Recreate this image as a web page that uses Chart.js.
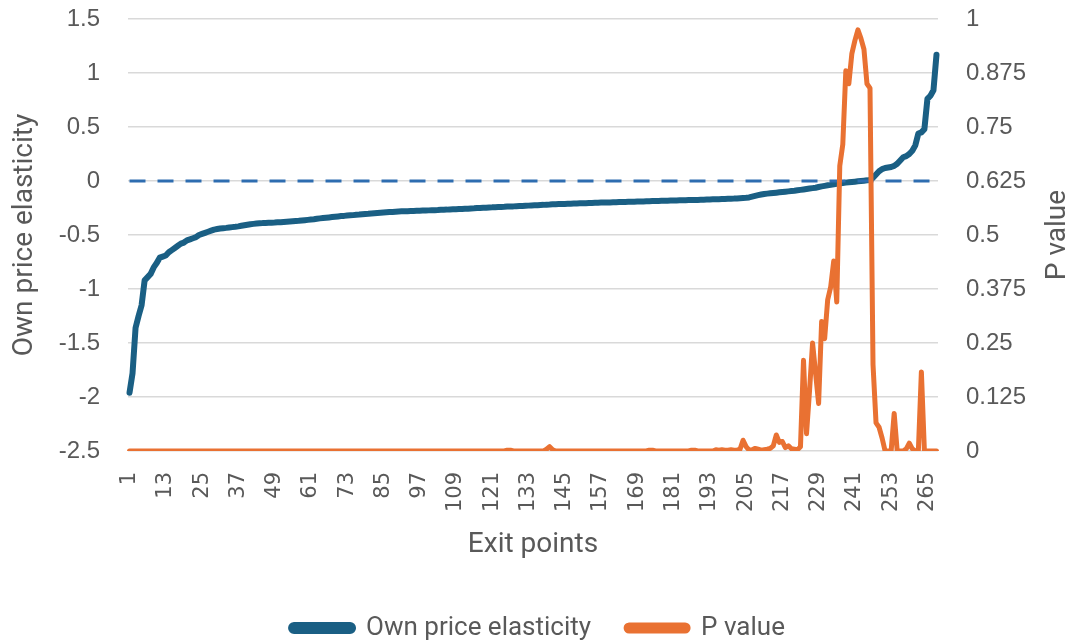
<!DOCTYPE html>
<html>
<head>
<meta charset="utf-8">
<script src="https://cdn.jsdelivr.net/npm/chart.js@4.4.1/dist/chart.umd.min.js"></script>
<style>
  html, body { margin: 0; padding: 0; background: #ffffff; }
  #wrap { width: 1076px; height: 644px; position: relative; }
</style>
</head>
<body>
<div id="wrap"><canvas id="c" width="1076" height="644"></canvas></div>
<script>
// ---- Data ----
const categoryCount = 268;
const categories = [];
for (let i = 1; i <= categoryCount; i++) categories.push(String(i));

const tickEvery = 12; // labels shown: 1, 13, 25, ... 265

const ownPriceElasticity = [
  -1.96, -1.78, -1.36, -1.25, -1.15, -0.92, -0.89, -0.86, -0.80, -0.76,
  -0.71, -0.70, -0.69, -0.66, -0.64, -0.62, -0.60, -0.58, -0.57, -0.55,
  -0.54, -0.53, -0.52, -0.50, -0.49, -0.48, -0.47, -0.46, -0.45, -0.445,
  -0.44, -0.437, -0.434, -0.43, -0.427, -0.424, -0.42, -0.415, -0.41, -0.405,
  -0.40, -0.397, -0.394, -0.392, -0.390, -0.389, -0.387, -0.386, -0.385, -0.383,
  -0.381, -0.379, -0.377, -0.375, -0.373, -0.371, -0.369, -0.366, -0.363, -0.36,
  -0.357, -0.354, -0.35, -0.346, -0.343, -0.34, -0.337, -0.334, -0.331, -0.328,
  -0.325, -0.323, -0.320, -0.318, -0.316, -0.313, -0.311, -0.308, -0.305, -0.303,
  -0.300, -0.298, -0.296, -0.294, -0.292, -0.290, -0.288, -0.286, -0.284, -0.282,
  -0.281, -0.280, -0.279, -0.278, -0.277, -0.276, -0.275, -0.274, -0.273, -0.272,
  -0.271, -0.270, -0.269, -0.267, -0.266, -0.265, -0.263, -0.262, -0.261, -0.260,
  -0.259, -0.257, -0.256, -0.254, -0.253, -0.251, -0.250, -0.248, -0.247, -0.245,
  -0.244, -0.242, -0.241, -0.240, -0.239, -0.237, -0.236, -0.235, -0.233, -0.232,
  -0.231, -0.229, -0.228, -0.226, -0.225, -0.224, -0.222, -0.221, -0.219, -0.218,
  -0.216, -0.215, -0.214, -0.213, -0.212, -0.211, -0.210, -0.209, -0.208, -0.207,
  -0.206, -0.205, -0.204, -0.203, -0.202, -0.201, -0.200, -0.199, -0.198, -0.198,
  -0.197, -0.196, -0.195, -0.195, -0.194, -0.193, -0.192, -0.191, -0.190, -0.190,
  -0.189, -0.188, -0.187, -0.186, -0.185, -0.185, -0.184, -0.183, -0.182, -0.181,
  -0.180, -0.180, -0.179, -0.178, -0.178, -0.177, -0.176, -0.176, -0.175, -0.174,
  -0.173, -0.172, -0.171, -0.170, -0.169, -0.168, -0.167, -0.166, -0.165, -0.164,
  -0.163, -0.161, -0.159, -0.157, -0.155, -0.152, -0.145, -0.138, -0.131, -0.125,
  -0.120, -0.117, -0.114, -0.111, -0.108, -0.105, -0.102, -0.099, -0.096, -0.093,
  -0.090, -0.086, -0.082, -0.078, -0.074, -0.070, -0.066, -0.062, -0.056, -0.050,
  -0.045, -0.040, -0.036, -0.031, -0.026, -0.021, -0.018, -0.015, -0.012, -0.009,
  -0.006, -0.003, 0.000, 0.003, 0.006, 0.010, 0.03, 0.06, 0.09, 0.11,
  0.12, 0.125, 0.13, 0.14, 0.16, 0.19, 0.22, 0.23, 0.25, 0.28,
  0.33, 0.44, 0.45, 0.48, 0.76, 0.79, 0.84, 1.17
];

const pValue = [
  0,0,0,0,0,0,0,0,0,0,
  0,0,0,0,0,0,0,0,0,0,
  0,0,0,0,0,0,0,0,0,0,
  0,0,0,0,0,0,0,0,0,0,
  0,0,0,0,0,0,0,0,0,0,
  0,0,0,0,0,0,0,0,0,0,
  0,0,0,0,0,0,0,0,0,0,
  0,0,0,0,0,0,0,0,0,0,
  0,0,0,0,0,0,0,0,0,0,
  0,0,0,0,0,0,0,0,0,0,
  0,0,0,0,0,0,0,0,0,0,
  0,0,0,0,0,0,0,0,0,0,
  0,0,0,0,0,0.002,0.002,0,0,0,
  0,0,0,0,0,0,0,0,0.004,0.01,
  0.003,0,0,0,0,0,0,0,0,0,
  0,0,0,0,0,0,0,0,0,0,
  0,0,0,0,0,0,0,0,0,0,
  0,0,0.002,0.002,0,0,0,0,0,0,
  0,0,0,0,0,0,0.002,0.002,0,0,
  0,0,0,0,0.003,0.002,0.003,0.002,0.002,0.003,
  0.002,0.002,0.004,0.025,0.01,0.002,0.003,0.006,0.004,0.002,
  0.003,0.004,0.006,0.012,0.037,0.02,0.022,0.008,0.012,0.005,
  0.004,0.003,0.01,0.21,0.04,0.14,0.25,0.18,0.11,0.30,
  0.26,0.35,0.38,0.44,0.345,0.66,0.71,0.88,0.85,0.92,
  0.95,0.975,0.955,0.93,0.85,0.84,0.20,0.065,0.055,0.03,
  0,0,0,0.087,0,0,0,0.005,0.018,0.005,
  0,0,0.183,0,0,0,0,0
];

const zeroLine = categories.map(() => 0);

const leftTicks = { min: -2.5, max: 1.5, step: 0.5 };
const rightTicks = { min: 0, max: 1, step: 0.125 };

// ---- Styling ----
const BLUE = '#1a5f84';
const ORANGE = '#e97132';
const DASH = '#2e6db0';
const GRID = '#d9d9d9';
const TEXT = '#595959';

const rightTitlePlugin = {
  id: 'rightTitle',
  afterDraw(chart) {
    const ctx = chart.ctx;
    const area = chart.chartArea;
    ctx.save();
    ctx.fillStyle = TEXT;
    ctx.font = '28px Roboto';
    ctx.textAlign = 'center';
    ctx.textBaseline = 'middle';
    ctx.translate(1058, (area.top + area.bottom) / 2);
    ctx.rotate(-Math.PI / 2);
    ctx.fillText('P value', 0, 0);
    ctx.restore();
  }
};

function fixVertical(width) {
  return (s) => {
    s.width = width;
    s.paddingTop = 10;
    s.paddingBottom = 10;
  };
}

new Chart(document.getElementById('c'), {
  type: 'line',
  data: {
    labels: categories,
    datasets: [
      {
        label: 'Own price elasticity',
        data: ownPriceElasticity,
        yAxisID: 'y',
        borderColor: BLUE,
        backgroundColor: BLUE,
        borderWidth: 6,
        pointRadius: 0,
        tension: 0,
        borderCapStyle: 'round',
        borderJoinStyle: 'round',
        order: 2
      },
      {
        label: 'P value',
        data: pValue,
        yAxisID: 'y1',
        borderColor: ORANGE,
        backgroundColor: ORANGE,
        borderWidth: 5,
        pointRadius: 0,
        tension: 0,
        borderCapStyle: 'round',
        borderJoinStyle: 'round',
        order: 0
      },
      {
        label: 'zero',
        data: zeroLine,
        yAxisID: 'y',
        borderColor: DASH,
        backgroundColor: DASH,
        borderWidth: 3,
        borderDash: [16, 12],
        pointRadius: 0,
        tension: 0,
        order: 1
      }
    ]
  },
  options: {
    responsive: false,
    animation: false,
    events: [],
    layout: { autoPadding: false, padding: { top: 19, left: 0, right: 0, bottom: 0 } },
    plugins: {
      tooltip: { enabled: false },
      legend: {
        position: 'bottom',
        maxHeight: 64,
        labels: {
          filter: (item) => item.text !== 'zero',
          sort: (a, b) => a.datasetIndex - b.datasetIndex,
          color: TEXT,
          font: { family: 'Roboto', size: 26 },
          boxWidth: 62,
          boxHeight: 6,
          padding: 35,
          useBorderRadius: true,
          borderRadius: 3
        }
      }
    },
    scales: {
      x: {
        type: 'category',
        offset: true,
        grid: { display: false, drawTicks: false },
        border: { display: false },
        ticks: {
          autoSkip: false,
          maxRotation: 90,
          minRotation: 90,
          padding: 21,
          color: TEXT,
          font: { family: 'DejaVu Sans', size: 21 },
          callback: function (val, idx) {
            return idx % tickEvery === 0 ? categories[idx] : '';
          }
        },
        title: {
          display: true,
          text: 'Exit points',
          color: TEXT,
          font: { family: 'Roboto', size: 28 },
          padding: { top: 0, bottom: 18 }
        },
        afterFit: (s) => { s.height = 129; }
      },
      y: {
        position: 'left',
        min: leftTicks.min,
        max: leftTicks.max,
        grid: { color: GRID, lineWidth: 1.5, drawTicks: false },
        border: { display: false },
        ticks: {
          stepSize: leftTicks.step,
          padding: 28,
          color: TEXT,
          font: { family: 'Liberation Sans', size: 24 },
          callback: (v) => String(+v.toFixed(3))
        },
        title: {
          display: true,
          text: 'Own price elasticity',
          color: TEXT,
          font: { family: 'Roboto', size: 28 },
          padding: { top: 8, bottom: 0 }
        },
        afterFit: fixVertical(128)
      },
      y1: {
        position: 'right',
        min: rightTicks.min,
        max: rightTicks.max,
        grid: { drawOnChartArea: false, drawTicks: false },
        border: { display: false },
        ticks: {
          stepSize: rightTicks.step,
          padding: 28,
          color: TEXT,
          font: { family: 'Liberation Sans', size: 24 },
          callback: (v) => String(+v.toFixed(3))
        },
        title: { display: false },
        afterFit: fixVertical(138)
      }
    }
  },
  plugins: [rightTitlePlugin]
});
</script>
</body>
</html>
